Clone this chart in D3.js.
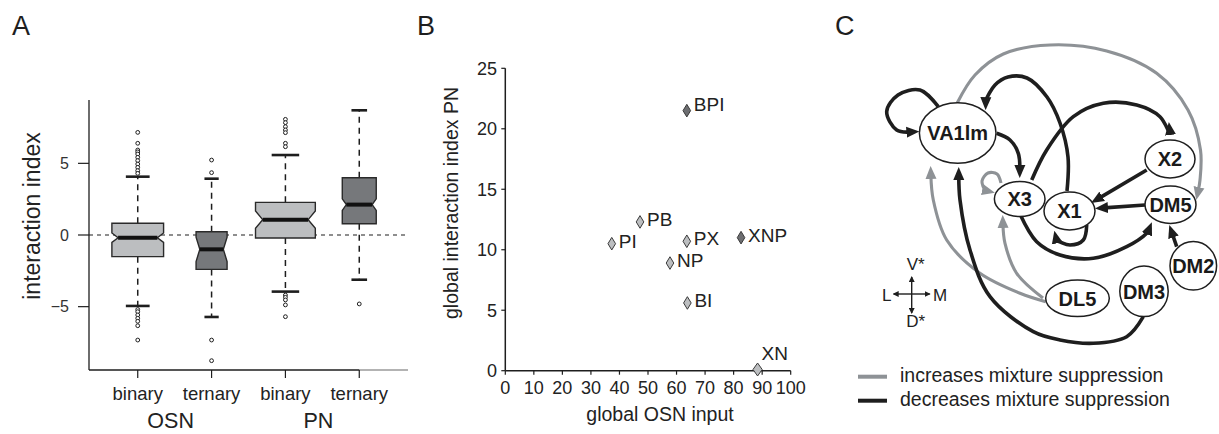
<!DOCTYPE html>
<html><head><meta charset="utf-8">
<script src="https://cdn.jsdelivr.net/npm/d3@7"></script>
<style>
body{margin:0;background:#fff;}
svg{font-family:"Liberation Sans",Arial,Helvetica,sans-serif;}
</style></head><body>
<svg id="fig" width="1219" height="434"></svg>
<script>
// ---- panel A: box plots ----
const boxGroups = ["OSN", "OSN", "PN", "PN"];
const boxLabels = ["binary", "ternary", "binary", "ternary"];
const boxQ1 = [-1.51, -2.4, -0.21, 0.79];
const boxMedian = [-0.19, -1.0, 1.07, 2.12];
const boxQ3 = [0.82, 0.23, 2.28, 4.0];
const boxWhiskerLo = [-4.95, -5.72, -3.95, -3.12];
const boxWhiskerHi = [4.07, 3.93, 5.58, 8.7];
const boxNotch = [0.33, 0.85, 0.6, 0.4];
const boxRelWidth = [0.70, 0.42, 0.81, 0.46];
const boxOutliers = [
  [7.16, 6.4, 5.93, 5.8, 5.65, 5.42, 5.19, 4.95, 4.72, 4.49, 4.3, -5.2, -5.35, -5.58, -5.81, -6.02, -6.33, -7.33],
  [5.23, 4.35, -7.33, -8.77],
  [8.07, 7.84, 7.56, 7.33, 7.14, 6.4, 6.16, -4.19, -4.35, -4.53, -4.88, -5.7],
  [-4.81]
];
const boxTicks = [-5, 0, 5];

// ---- panel B: scatter ----
const mixNames = ["BPI", "PB", "PI", "PX", "NP", "XNP", "BI", "XN"];
const mixOSN = [63.6, 47.2, 37.3, 63.6, 57.7, 82.6, 63.8, 88.4];
const mixPN = [21.5, 12.3, 10.5, 10.7, 8.9, 11.0, 5.6, 0.1];
const mixTernary = [true, false, false, false, false, true, false, false];
const xTicksB = d3.range(0, 101, 10);
const yTicksB = [0, 5, 10, 15, 20, 25];

// ---- panel C: network ----
const nodeNames = ["VA1lm", "X3", "X1", "X2", "DM5", "DM2", "DM3", "DL5"];
const nodeX = [137.7, 199.7, 249.5, 350, 350.5, 373.3, 324, 257.5];
const nodeY = [93, 159, 171, 119, 164.7, 225.8, 251.3, 258.3];
const nodeRx = [38.3, 25.3, 25.5, 25, 25.5, 23.3, 24.2, 31.8];
const nodeRy = [30.3, 17.5, 19, 19, 18.7, 24.2, 25.3, 18.3];
const edgeType = ["dec", "inc", "dec", "dec", "dec", "dec", "dec", "dec", "dec", "dec", "inc", "inc", "inc", "dec"];
const edgeRoute = [
  [[118.3,66.7],[100,50],[78,55],[66.7,71.7],[76.7,90],[99.3,93.3]],
  [[137.3,62.7],[155,35],[183.3,14],[230,5],[286.7,11],[336.7,33.3],[368,70],[380.5,110],[380,140],[376.7,160]],
  [[247,151],[248,117],[240,83],[227,57],[207,38],[188,37],[175,45],[166,60],[164,70]],
  [[176.7,93.3],[190,100],[198.3,113.3],[200.7,138]],
  [[211.7,140],[226.7,110],[253.3,76.7],[283.3,63.3],[316.7,65],[340,76.7],[350,93.3],[350,100]],
  [[326.7,130],[271,163]],
  [[325,165],[275,168.5]],
  [[266.7,185],[263.3,200],[250,205],[236.7,200],[231.7,191.7]],
  [[200,174],[216.7,201.7],[240,215],[273.3,218.3],[306.7,206.7],[326.7,193.3],[333.3,183]],
  [[356.7,206.7],[349.3,185]],
  [[181,143],[177,134],[168,133],[162,141],[165,150],[174,155]],
  [[225.7,261.7],[200,253.3],[160,233.3],[126.7,200],[113.3,160],[110,126]],
  [[223,258],[196.7,233.3],[185,203.3],[182,175]],
  [[323.3,276.7],[306.7,296.7],[273.3,303.3],[240,300],[213.3,291.7],[170,256.7],[150,210],[140,160],[138.3,127]]
];
const legendLabels = ["increases mixture suppression", "decreases mixture suppression"];

const LIGHT = "#bcbec0", DARK = "#76787b", INK = "#1e1e1e", GREY = "#8e9296";
const svg = d3.select("#fig");

// panel letters
svg.selectAll("text.letter").data([["A", 12], ["B", 417], ["C", 835]]).enter()
  .append("text").attr("x", d => d[1]).attr("y", 35)
  .style("font-size", "27px").style("fill", INK).text(d => d[0]);

// ===== Panel A =====
const xA = d3.scaleLinear().domain([0.34, 4.66]).range([89, 408]);
const yA = d3.scaleLinear().domain([-9.42, 9.42]).range([370, 100]);
const band = xA(2) - xA(1);
const gA = svg.append("g");

gA.append("line").attr("x1", xA.range()[0]).attr("x2", xA.range()[1])
  .attr("y1", yA(0)).attr("y2", yA(0))
  .attr("stroke", INK).attr("stroke-width", 1.2).attr("stroke-dasharray", "4,4");

const boxes = boxLabels.map((d, i) => ({
  i: i, pos: i + 1, q1: boxQ1[i], med: boxMedian[i], q3: boxQ3[i],
  lo: boxWhiskerLo[i], hi: boxWhiskerHi[i], notch: boxNotch[i],
  w: boxRelWidth[i] * band, out: boxOutliers[i], ternary: d === "ternary"
}));

const bg = gA.selectAll("g.box").data(boxes).enter().append("g").attr("class", "box");
// whiskers, box, median, outliers
bg.each(function(d) {
  const g = d3.select(this), cx = xA(d.pos);
  [[d.q3, d.hi], [d.q1, d.lo]].forEach(s => {
    g.append("line").attr("x1", cx).attr("x2", cx).attr("y1", yA(s[0])).attr("y2", yA(s[1]))
      .attr("stroke", INK).attr("stroke-width", 1.5).attr("stroke-dasharray", "6,5");
    g.append("line").attr("x1", cx - d.w * 0.23).attr("x2", cx + d.w * 0.23)
      .attr("y1", yA(s[1])).attr("y2", yA(s[1]))
      .attr("stroke", INK).attr("stroke-width", 2.6);
  });
  const l = cx - d.w / 2, r = cx + d.w / 2, ins = d.w * 0.12;
  const pts = [[l, yA(d.q3)], [r, yA(d.q3)], [r, yA(d.med + d.notch)], [r - ins, yA(d.med)],
    [r, yA(d.med - d.notch)], [r, yA(d.q1)], [l, yA(d.q1)], [l, yA(d.med - d.notch)],
    [l + ins, yA(d.med)], [l, yA(d.med + d.notch)]];
  g.append("path").attr("d", d3.line()(pts) + "Z")
    .attr("fill", d.ternary ? DARK : LIGHT).attr("stroke", "#2a2a2a").attr("stroke-width", 1.4);
  g.append("line").attr("x1", l + ins).attr("x2", r - ins).attr("y1", yA(d.med)).attr("y2", yA(d.med))
    .attr("stroke", "#111").attr("stroke-width", 4);
  g.selectAll("circle").data(d.out).enter().append("circle")
    .attr("cx", cx).attr("cy", v => yA(v)).attr("r", 1.9)
    .attr("fill", "#fff").attr("stroke", INK).attr("stroke-width", 1);
});

// axes A
gA.append("line").attr("x1", 89).attr("x2", 89).attr("y1", yA.range()[1]).attr("y2", yA.range()[0])
  .attr("stroke", INK).attr("stroke-width", 1.3);
gA.append("line").attr("x1", xA(4)).attr("x2", xA.range()[1]).attr("y1", 370).attr("y2", 370)
  .attr("stroke", "#9a9a9a").attr("stroke-width", 1.3);
gA.append("line").attr("x1", 89).attr("x2", xA(4)).attr("y1", 370).attr("y2", 370)
  .attr("stroke", INK).attr("stroke-width", 1.5);
gA.selectAll("line.yt").data(boxTicks).enter().append("line")
  .attr("x1", 78).attr("x2", 89).attr("y1", d => yA(d)).attr("y2", d => yA(d))
  .attr("stroke", INK).attr("stroke-width", 1.2);
gA.selectAll("text.yt").data(boxTicks).enter().append("text")
  .attr("x", 69).attr("y", d => yA(d)).attr("dy", "0.35em").attr("text-anchor", "end")
  .style("font-size", "16px").style("fill", "#333").text(d => d3.format("d")(d));
gA.selectAll("line.xt").data(boxes).enter().append("line")
  .attr("x1", d => xA(d.pos)).attr("x2", d => xA(d.pos)).attr("y1", 370).attr("y2", 378)
  .attr("stroke", INK).attr("stroke-width", 1.2);
gA.selectAll("text.xt").data(boxes).enter().append("text")
  .attr("x", d => xA(d.pos)).attr("y", 400).attr("text-anchor", "middle")
  .style("font-size", "18.5px").style("fill", "#222").text((d, i) => boxLabels[i]);
const groupNames = Array.from(new Set(boxGroups));
gA.selectAll("text.grp").data(groupNames).enter().append("text")
  .attr("x", g => d3.mean(boxes.filter((d, i) => boxGroups[i] === g), d => xA(d.pos)) - 4)
  .attr("y", 428).attr("text-anchor", "middle")
  .style("font-size", "21.5px").style("fill", "#222").text(g => g);
gA.append("text").attr("transform", "translate(40," + 216 + ") rotate(-90)")
  .attr("text-anchor", "middle").style("font-size", "23px").style("fill", "#222")
  .text("interaction index");

// ===== Panel B =====
const xB = d3.scaleLinear().domain([0, 100]).range([505.3, 790.7]);
const yB = d3.scaleLinear().domain([0, 25]).range([370.7, 68.3]);
const gB = svg.append("g");
gB.append("line").attr("x1", xB(0)).attr("x2", xB(0)).attr("y1", yB(25)).attr("y2", yB(0))
  .attr("stroke", INK).attr("stroke-width", 1.5);
gB.append("line").attr("x1", xB(0)).attr("x2", xB(100)).attr("y1", yB(0)).attr("y2", yB(0))
  .attr("stroke", INK).attr("stroke-width", 1.5);
gB.selectAll("line.yt").data(yTicksB).enter().append("line")
  .attr("x1", xB(0) - 4).attr("x2", xB(0)).attr("y1", d => yB(d)).attr("y2", d => yB(d))
  .attr("stroke", INK).attr("stroke-width", 1.2);
gB.selectAll("text.yt").data(yTicksB).enter().append("text")
  .attr("x", 497).attr("y", d => yB(d)).attr("dy", "0.35em").attr("text-anchor", "end")
  .style("font-size", "18px").style("fill", "#222").text(d => d);
gB.selectAll("line.xt").data(xTicksB).enter().append("line")
  .attr("x1", d => xB(d)).attr("x2", d => xB(d)).attr("y1", yB(0)).attr("y2", yB(0) + 4)
  .attr("stroke", INK).attr("stroke-width", 1.2);
gB.selectAll("text.xt").data(xTicksB).enter().append("text")
  .attr("x", d => xB(d)).attr("y", 394).attr("text-anchor", "middle")
  .style("font-size", "18px").style("fill", "#222").text(d => d);
gB.append("text").attr("x", 660).attr("y", 421).attr("text-anchor", "middle")
  .style("font-size", "19.5px").style("fill", "#222").text("global OSN input");
gB.append("text").attr("transform", "translate(458,203) rotate(-90)").attr("text-anchor", "middle")
  .style("font-size", "19.5px").style("fill", "#222").text("global interaction index PN");

const mix = mixNames.map((n, i) => ({ name: n, x: mixOSN[i], y: mixPN[i], ternary: mixTernary[i] }));
gB.selectAll("path.pt").data(mix).enter().append("path")
  .attr("transform", d => "translate(" + xB(d.x) + "," + yB(d.y) + ")")
  .attr("d", d => d.name === "XN" ? "M0,-6.5L4.6,0L0,6.5L-4.6,0Z" : "M0,-6.3L3.8,0L0,6.3L-3.8,0Z")
  .attr("fill", d => d.ternary ? "#6d6e71" : LIGHT).attr("stroke", "#3a3a3a").attr("stroke-width", 1);
gB.selectAll("text.pt").data(mix).enter().append("text")
  .attr("x", d => xB(d.x) + (d.name === "XN" ? 4 : 7))
  .attr("y", d => yB(d.y) + (d.name === "XN" ? -9 : d.name === "BPI" ? 0 : 4))
  .style("font-size", "19px").style("fill", "#222").text(d => d.name);

// ===== Panel C =====
const xC = d3.scaleLinear().domain([0, 400]).range([820, 1220]);
const yC = d3.scaleLinear().domain([0, 400]).range([40, 440]);
const gC = svg.append("g");
const defs = svg.append("defs");
[["dec", INK], ["inc", GREY]].forEach(m => {
  defs.append("marker").attr("id", "arr-" + m[0]).attr("markerUnits", "userSpaceOnUse")
    .attr("viewBox", "0 -6 13 12").attr("refX", 4).attr("refY", 0)
    .attr("markerWidth", 13).attr("markerHeight", 12).attr("orient", "auto")
    .append("path").attr("d", "M0,-5.5L13,0L0,5.5Z").attr("fill", m[1]);
});
const curve = d3.line().x(p => xC(p[0])).y(p => yC(p[1])).curve(d3.curveCatmullRom.alpha(0.5));
function trimmed(route) {
  const pts = route.map(p => p.slice());
  const a = pts[pts.length - 2], b = pts[pts.length - 1];
  const dx = b[0] - a[0], dy = b[1] - a[1], len = Math.hypot(dx, dy);
  b[0] -= dx / len * 9; b[1] -= dy / len * 9;
  return pts;
}
gC.selectAll("path.edge").data(edgeRoute).enter().append("path")
  .attr("d", r => curve(trimmed(r))).attr("fill", "none")
  .attr("stroke", (r, i) => edgeType[i] === "dec" ? INK : GREY)
  .attr("stroke-width", (r, i) => edgeType[i] === "dec" ? 3.6 : 3.1)
  .attr("marker-end", (r, i) => "url(#arr-" + edgeType[i] + ")");

const nodes = nodeNames.map((n, i) => ({ name: n, x: nodeX[i], y: nodeY[i], rx: nodeRx[i], ry: nodeRy[i] }));
gC.selectAll("ellipse").data(nodes).enter().append("ellipse")
  .attr("cx", d => xC(d.x)).attr("cy", d => yC(d.y)).attr("rx", d => d.rx).attr("ry", d => d.ry)
  .attr("fill", "#fff").attr("stroke", INK).attr("stroke-width", 1.5);
gC.selectAll("text.node").data(nodes).enter().append("text")
  .attr("x", d => xC(d.x)).attr("y", d => yC(d.y)).attr("dy", "0.36em").attr("text-anchor", "middle")
  .style("font-size", "20px").style("font-weight", "bold").style("fill", "#1a1a1a").text(d => d.name);

// compass
const cxs = 911.7, cys = 294;
const comp = [[cxs, cys, cxs, cys - 17], [cxs, cys, cxs, cys + 19], [cxs, cys, cxs - 18, cys], [cxs, cys, cxs + 18, cys]];
defs.append("marker").attr("id", "arr-small").attr("markerUnits", "userSpaceOnUse")
  .attr("viewBox", "0 -3 6 6").attr("refX", 5).attr("refY", 0)
  .attr("markerWidth", 6).attr("markerHeight", 6).attr("orient", "auto")
  .append("path").attr("d", "M0,-3L6,0L0,3Z").attr("fill", INK);
gC.selectAll("line.comp").data(comp).enter().append("line")
  .attr("x1", d => d[0]).attr("y1", d => d[1]).attr("x2", d => d[2]).attr("y2", d => d[3])
  .attr("stroke", INK).attr("stroke-width", 1.4).attr("marker-end", "url(#arr-small)");
[["V*", cxs + 4, 270, "middle"], ["D*", cxs + 4, 327, "middle"], ["L", 891.5, 300.5, "end"], ["M", 933, 300.5, "start"]]
  .forEach(t => gC.append("text").attr("x", t[1]).attr("y", t[2]).attr("text-anchor", t[3])
    .style("font-size", "17px").style("fill", "#222").text(t[0]));

// legend
const lg = gC.selectAll("g.leg").data(legendLabels).enter().append("g")
  .attr("transform", (d, i) => "translate(858," + (376.7 + i * 24) + ")");
lg.append("line").attr("x1", 0).attr("x2", 29).attr("y1", 0).attr("y2", 0)
  .attr("stroke", (d, i) => i === 0 ? GREY : INK).attr("stroke-width", 4);
lg.append("text").attr("x", 42).attr("y", 5.5).style("font-size", "19.5px").style("fill", "#222").text(d => d);
</script>
</body></html>
